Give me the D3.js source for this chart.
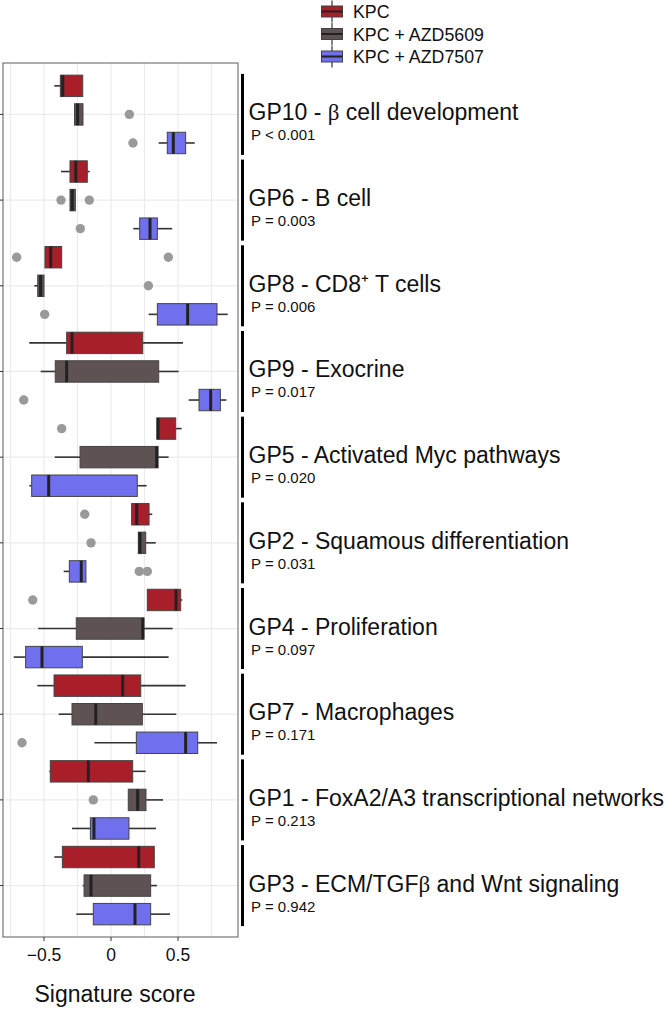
<!DOCTYPE html>
<html><head><meta charset="utf-8">
<script src="https://cdn.jsdelivr.net/npm/d3@7"></script>
<style>body{margin:0;background:#fff;} text{font-family:"Liberation Sans",Arial,sans-serif;}</style>
</head><body><svg id="c" width="664" height="1010"></svg>
<script>
const groups = ["GP10 - \u03b2 cell development","GP6 - B cell","GP8 - CD8\u207a T cells","GP9 - Exocrine","GP5 - Activated Myc pathways","GP2 - Squamous differentiation","GP4 - Proliferation","GP7 - Macrophages","GP1 - FoxA2/A3 transcriptional networks","GP3 - ECM/TGF\u03b2 and Wnt signaling"];
const pvalues = ["P < 0.001","P = 0.003","P = 0.006","P = 0.017","P = 0.020","P = 0.031","P = 0.097","P = 0.171","P = 0.213","P = 0.942"];
const series = ["KPC","KPC + AZD5609","KPC + AZD7507"];
const colors = ["#A81F2A","#5E5352","#7070EE"];
const xTicks = [-0.5, 0, 0.5];
// [min, q1, median, q3, max] per group
const kpcStats = [
  [-0.423,-0.378,-0.36,-0.211,-0.209],
  [-0.373,-0.306,-0.263,-0.177,-0.159],
  [-0.493,-0.493,-0.45,-0.368,-0.368],
  [-0.61,-0.331,-0.291,0.237,0.537],
  [0.343,0.343,0.351,0.483,0.527],
  [0.154,0.154,0.192,0.284,0.308],
  [0.271,0.271,0.485,0.52,0.532],
  [-0.55,-0.425,0.087,0.222,0.557],
  [-0.46,-0.453,-0.169,0.162,0.259],
  [-0.423,-0.363,0.207,0.323,0.328]
];
const azd5609Stats = [
  [-0.272,-0.272,-0.249,-0.209,-0.209],
  [-0.306,-0.306,-0.289,-0.266,-0.266],
  [-0.572,-0.547,-0.525,-0.5,-0.5],
  [-0.525,-0.416,-0.331,0.356,0.505],
  [-0.42,-0.231,0.341,0.351,0.43],
  [0.204,0.204,0.216,0.259,0.334],
  [-0.543,-0.259,0.237,0.246,0.46],
  [-0.39,-0.291,-0.114,0.234,0.487],
  [0.129,0.129,0.199,0.261,0.388],
  [-0.211,-0.201,-0.149,0.296,0.343]
];
const azd7507Stats = [
  [0.356,0.42,0.465,0.557,0.625],
  [0.166,0.214,0.291,0.346,0.457],
  [0.281,0.346,0.572,0.791,0.871],
  [0.58,0.657,0.744,0.816,0.861],
  [-0.61,-0.592,-0.465,0.196,0.266],
  [-0.353,-0.311,-0.222,-0.187,-0.187],
  [-0.726,-0.637,-0.515,-0.214,0.43],
  [-0.124,0.189,0.557,0.647,0.791],
  [-0.291,-0.154,-0.127,0.134,0.336],
  [-0.259,-0.132,0.179,0.296,0.44]
];
const kpcOutliers = [[],[],[-0.704,0.428],[],[-0.368],[-0.196],[-0.584],[],[],[]];
const azd5609Outliers = [[0.137],[-0.373,-0.162],[0.279],[],[],[-0.149],[],[],[-0.132],[]];
const azd7507Outliers = [[0.164],[-0.229],[-0.495],[-0.651],[],[0.211,0.271],[],[-0.664],[],[]];

const allStats = [kpcStats, azd5609Stats, azd7507Stats];
const allOut = [kpcOutliers, azd5609Outliers, azd7507Outliers];

const svg = d3.select("#c");
const pL = 3, pR = 238, pT = 63, pB = 937;
const x = d3.scaleLinear().domain([-0.5,0.5]).range([44,178]);
const y = d3.scalePoint().domain(groups).range([pT,pB]).padding(0.6);
const step = y.step();
const dodge = d3.scalePoint().domain(series).range([-step/3, step/3]);
const bh = step*0.25;

const panel = svg.append("g");
panel.append("rect").attr("x",pL).attr("y",pT).attr("width",pR-pL).attr("height",pB-pT).attr("fill","#fff");
// grid
const minor = [-0.75,-0.25,0.25,0.75];
panel.selectAll(".gv").data(xTicks.concat(minor)).join("line")
  .attr("x1",d=>x(d)).attr("x2",d=>x(d)).attr("y1",pT).attr("y2",pB)
  .attr("stroke","#EBEBEB").attr("stroke-width",1.2);
panel.selectAll(".gh").data(groups).join("line")
  .attr("x1",pL).attr("x2",pR).attr("y1",d=>y(d)).attr("y2",d=>y(d))
  .attr("stroke","#EBEBEB").attr("stroke-width",1.2);

// boxes
series.forEach((s,si)=>{
  groups.forEach((g,gi)=>{
    const st = allStats[si][gi];
    const cy = y(g)+dodge(s);
    const gg = panel.append("g");
    gg.append("line").attr("x1",x(st[0])).attr("x2",x(st[1])).attr("y1",cy).attr("y2",cy).attr("stroke","#333").attr("stroke-width",1.6);
    gg.append("line").attr("x1",x(st[3])).attr("x2",x(st[4])).attr("y1",cy).attr("y2",cy).attr("stroke","#333").attr("stroke-width",1.6);
    gg.append("rect").attr("x",x(st[1])).attr("y",cy-bh/2).attr("width",x(st[3])-x(st[1])).attr("height",bh)
      .attr("fill",colors[si]).attr("stroke","#444").attr("stroke-width",1);
    gg.append("line").attr("x1",x(st[2])).attr("x2",x(st[2])).attr("y1",cy-bh/2).attr("y2",cy+bh/2).attr("stroke","#222").attr("stroke-width",3);
    allOut[si][gi].forEach(o=>{
      gg.append("circle").attr("cx",x(o)).attr("cy",cy).attr("r",4.7).attr("fill","#9A9A9A");
    });
  });
});
// panel border
svg.append("rect").attr("x",pL).attr("y",pT).attr("width",pR-pL).attr("height",pB-pT).attr("fill","none").attr("stroke","#777").attr("stroke-width",1.2);
// y ticks
svg.selectAll(".yt").data(groups).join("line").attr("x1",0).attr("x2",pL).attr("y1",d=>y(d)).attr("y2",d=>y(d)).attr("stroke","#333").attr("stroke-width",1);
// x axis
const xa = svg.append("g");
xa.selectAll("line").data(xTicks).join("line").attr("x1",d=>x(d)).attr("x2",d=>x(d)).attr("y1",pB).attr("y2",pB+4).attr("stroke","#333");
xa.selectAll("text").data(xTicks).join("text").attr("x",d=>x(d)).attr("y",961).attr("text-anchor","middle")
  .attr("font-size",17.5).attr("fill","#111").text(d=>d===0?"0":d3.format(".1f")(d));
svg.append("text").attr("x",115).attr("y",1002).attr("text-anchor","middle").attr("font-size",23).attr("fill","#111").text("Signature score");

// right labels (β drawn in a serif face like the original symbol glyph)
groups.forEach((g,gi)=>{
  const cy = y(g);
  svg.append("line").attr("x1",242.5).attr("x2",242.5).attr("y1",cy-40.5).attr("y2",cy+40.5).attr("stroke","#000").attr("stroke-width",3);
  const t = svg.append("text").attr("x",248.5).attr("y",cy+6).attr("font-size",23).attr("fill","#111");
  g.split(/(\u03b2)/).forEach(part=>{
    if(!part) return;
    const ts = t.append("tspan").text(part);
    if(part==="\u03b2") ts.attr("font-family","Liberation Serif, serif");
  });
  svg.append("text").attr("x",251).attr("y",cy+26).attr("font-size",15).attr("fill","#111").text(pvalues[gi]);
});

// legend
series.forEach((s,si)=>{
  const cy = 11.5 + si*22.5;
  const lg = svg.append("g");
  lg.append("line").attr("x1",332).attr("x2",332).attr("y1",cy-11).attr("y2",cy+11).attr("stroke","#333").attr("stroke-width",1.2);
  lg.append("rect").attr("x",321.5).attr("y",cy-5.5).attr("width",21).attr("height",11).attr("fill",colors[si]).attr("stroke","#444").attr("stroke-width",1);
  lg.append("line").attr("x1",321.5).attr("x2",342.5).attr("y1",cy).attr("y2",cy).attr("stroke","#222").attr("stroke-width",2);
  lg.append("text").attr("x",353).attr("y",cy+6.5).attr("font-size",17.8).attr("fill","#111").text(s);
});
</script></body></html>
